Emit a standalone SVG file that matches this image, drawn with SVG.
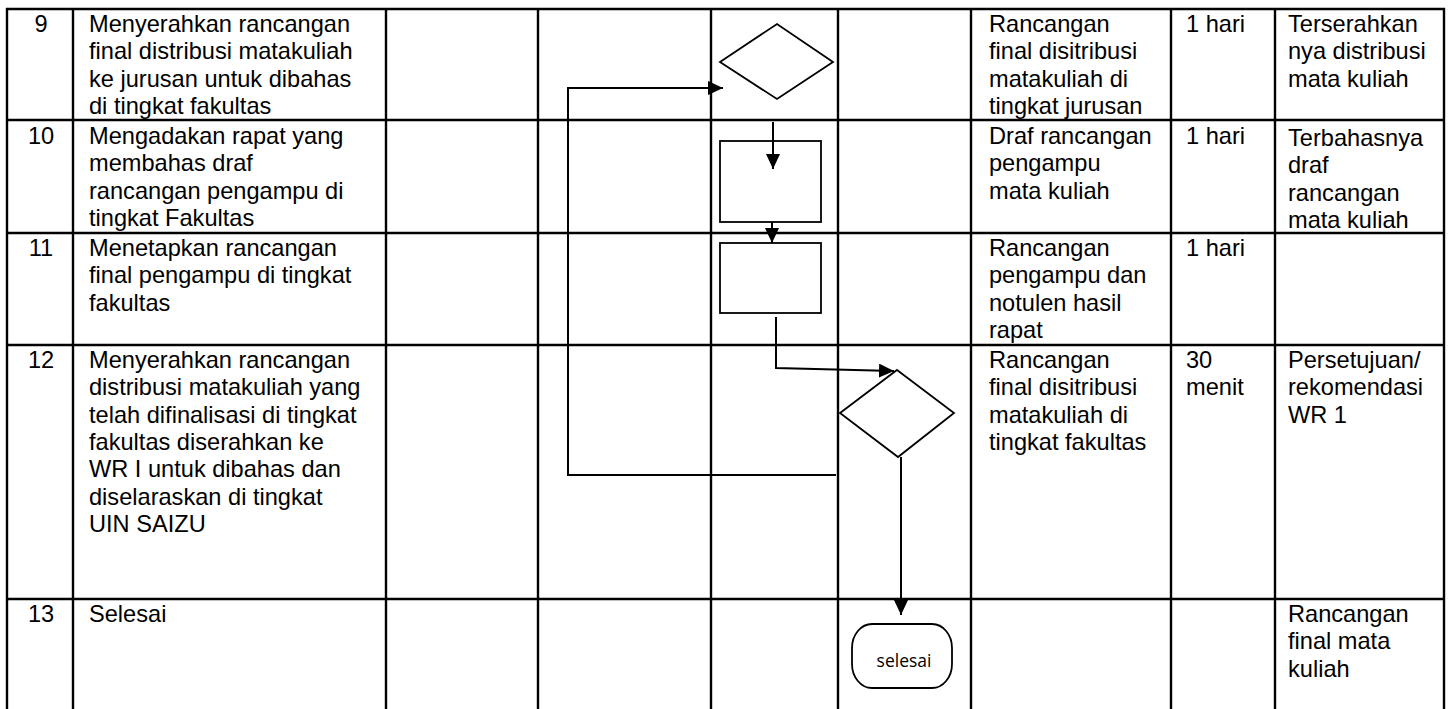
<svg xmlns="http://www.w3.org/2000/svg" width="1452" height="709" viewBox="0 0 1452 709">
<style>
.grid line{stroke:#000;stroke-width:2.4}
.t{font-family:"Liberation Sans",Arial,sans-serif;font-size:23.6px;fill:#000}
.n{text-anchor:middle}
.shape{fill:#fff;stroke:#000;stroke-width:1.8}
.conn path{fill:none;stroke:#000;stroke-width:2}
.term{font-family:"Open Sans","DejaVu Sans",sans-serif;font-size:17.5px;fill:#000;text-anchor:middle}
</style>
<defs>
<marker id="arr" viewBox="0 0 15 14" refX="15" refY="7" markerWidth="15" markerHeight="14" markerUnits="userSpaceOnUse" orient="auto">
<path d="M0,0 L15,7 L0,14 z" fill="#000"/>
</marker>
</defs>
<rect width="1452" height="709" fill="#fff"/>
<g class="grid">
<line x1="6" y1="9" x2="1445" y2="9"/>
<line x1="6" y1="120" x2="1445" y2="120"/>
<line x1="6" y1="233" x2="1445" y2="233"/>
<line x1="6" y1="345" x2="1445" y2="345"/>
<line x1="6" y1="599" x2="1445" y2="599"/>
<line x1="7" y1="8" x2="7" y2="709"/>
<line x1="73" y1="8" x2="73" y2="709"/>
<line x1="386" y1="8" x2="386" y2="709"/>
<line x1="538" y1="8" x2="538" y2="709"/>
<line x1="711" y1="8" x2="711" y2="709"/>
<line x1="838" y1="8" x2="838" y2="709"/>
<line x1="971" y1="8" x2="971" y2="709"/>
<line x1="1171" y1="8" x2="1171" y2="709"/>
<line x1="1275" y1="8" x2="1275" y2="709"/>
<line x1="1444" y1="8" x2="1444" y2="709"/>
</g>
<g id="row9" class="t">
<text class="n" x="41" y="32">9</text>
<text x="89" y="32">Menyerahkan rancangan</text>
<text x="89" y="59.3">final distribusi matakuliah</text>
<text x="89" y="86.6">ke jurusan untuk dibahas</text>
<text x="89" y="113.9">di tingkat fakultas</text>
<text x="989" y="32">Rancangan</text>
<text x="989" y="59.3">final disitribusi</text>
<text x="989" y="86.6">matakuliah di</text>
<text x="989" y="113.9">tingkat jurusan</text>
<text x="1186" y="32">1 hari</text>
<text x="1288" y="32">Terserahkan</text>
<text x="1288" y="59.3">nya distribusi</text>
<text x="1288" y="86.6">mata kuliah</text>
</g>
<g id="row10" class="t">
<text class="n" x="41" y="144">10</text>
<text x="89" y="144">Mengadakan rapat yang</text>
<text x="89" y="171.3">membahas draf</text>
<text x="89" y="198.6">rancangan pengampu di</text>
<text x="89" y="225.9">tingkat Fakultas</text>
<text x="989" y="144">Draf rancangan</text>
<text x="989" y="171.3">pengampu</text>
<text x="989" y="198.6">mata kuliah</text>
<text x="1186" y="144">1 hari</text>
<text x="1288" y="146">Terbahasnya</text>
<text x="1288" y="173.3">draf</text>
<text x="1288" y="200.6">rancangan</text>
<text x="1288" y="227.9">mata kuliah</text>
</g>
<g id="row11" class="t">
<text class="n" x="41" y="256">11</text>
<text x="89" y="256">Menetapkan rancangan</text>
<text x="89" y="283.3">final pengampu di tingkat</text>
<text x="89" y="310.6">fakultas</text>
<text x="989" y="256">Rancangan</text>
<text x="989" y="283.3">pengampu dan</text>
<text x="989" y="310.6">notulen hasil</text>
<text x="989" y="337.9">rapat</text>
<text x="1186" y="256">1 hari</text>
</g>
<g id="row12" class="t">
<text class="n" x="41" y="368">12</text>
<text x="89" y="368">Menyerahkan rancangan</text>
<text x="89" y="395.3">distribusi matakuliah yang</text>
<text x="89" y="422.6">telah difinalisasi di tingkat</text>
<text x="89" y="449.9">fakultas diserahkan ke</text>
<text x="89" y="477.2">WR I untuk dibahas dan</text>
<text x="89" y="504.5">diselaraskan di tingkat</text>
<text x="89" y="531.8">UIN SAIZU</text>
<text x="989" y="368">Rancangan</text>
<text x="989" y="395.3">final disitribusi</text>
<text x="989" y="422.6">matakuliah di</text>
<text x="989" y="449.9">tingkat fakultas</text>
<text x="1186" y="368">30</text>
<text x="1186" y="395.3">menit</text>
<text x="1288" y="368">Persetujuan/</text>
<text x="1288" y="395.3">rekomendasi</text>
<text x="1288" y="422.6">WR 1</text>
</g>
<g id="row13" class="t">
<text class="n" x="41" y="622">13</text>
<text x="89" y="622">Selesai</text>
<text x="1288" y="622">Rancangan</text>
<text x="1288" y="649.3">final mata</text>
<text x="1288" y="676.6">kuliah</text>
</g>
<g id="decision1"><polygon class="shape" points="720,62 777,24 833,62 777,99"/></g>
<g id="process1"><rect class="shape" x="720" y="141" width="101" height="81"/></g>
<g id="process2"><rect class="shape" x="720" y="243" width="101" height="70"/></g>
<g id="decision2"><polygon class="shape" points="897,370 954,413 898,457 840,413"/></g>
<g id="end"><rect class="shape" x="852" y="624" width="100" height="64" rx="20" ry="24"/><text class="term" x="904" y="667">selesai</text></g>
<g class="conn" id="connectors">
<path d="M836,475 H568 V88 H723" marker-end="url(#arr)"/>
<path d="M773,122 V169" marker-end="url(#arr)"/>
<path d="M772,222 V243" marker-end="url(#arr)"/>
<path d="M776,317 V368 L894,371" marker-end="url(#arr)"/>
<path d="M901,457 V615" marker-end="url(#arr)"/>
</g>
</svg>
